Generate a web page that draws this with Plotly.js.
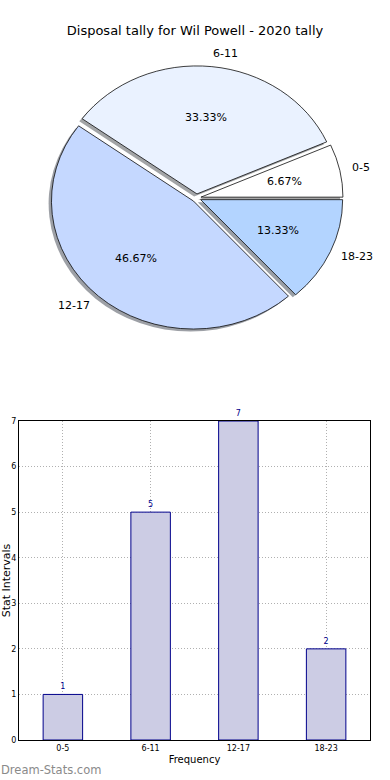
<!DOCTYPE html>
<html>
<head>
<meta charset="utf-8">
<script src="https://cdn.plot.ly/plotly-3.0.1.min.js"></script>
<style>html,body{margin:0;padding:0;background:#fff;} #chart{width:390px;height:780px;}</style>
</head>
<body>
<div id="chart"></div>
<script>
// ---- data ----
const categories = ['0-5', '6-11', '12-17', '18-23'];
const counts = [1, 5, 7, 2];
const sliceColors = ['#ffffff', '#eaf2ff', '#c5d8ff', '#b3d4ff'];
const yTicks = [0, 1, 2, 3, 4, 5, 6, 7];
const chartTitle = 'Disposal tally for Wil Powell - 2020 tally';
const xTitle = 'Frequency';
const yTitle = 'Stat Intervals';
const watermark = 'Dream-Stats.com';

const W = 390, H = 780;
const FONT = 'DejaVu Sans, sans-serif';
const px = v => v / W;
const py = v => 1 - v / H;

// pie geometry (pixels); matplotlib-style elliptical pie
const cx = 196.5, cy = 198, rx = 142, ry = 128;
const explode = 0.032;
const half = rx * (1 + explode);
const shadowOff = 0.02;
const pieDomain = {x: [px(cx - half), px(cx + half)], y: [py(cy + half), py(cy - half)]};
const shadowDomain = {
  x: [px(cx - half - shadowOff * rx), px(cx + half - shadowOff * rx)],
  y: [py(cy + half + shadowOff * rx), py(cy - half + shadowOff * rx)]
};
const total = counts.reduce((a, b) => a + b, 0);
// start at 3 o'clock, going counterclockwise (plotly places first slice clockwise of 'rotation')
const rotation = 90 - 360 * counts[0] / total;

const common = {
  type: 'pie', values: counts, labels: categories, sort: false,
  direction: 'counterclockwise', rotation: rotation, pull: explode, showlegend: false,
  hoverinfo: 'skip', textinfo: 'none'
};

function shade(hex) {
  const n = parseInt(hex.slice(1), 16);
  const r = (n >> 16) & 255, g = (n >> 8) & 255, b = n & 255;
  return `rgba(${Math.round(r * 0.3)},${Math.round(g * 0.3)},${Math.round(b * 0.3)},0.5)`;
}

const shadow = Object.assign({}, common, {
  domain: shadowDomain,
  marker: {colors: sliceColors.map(shade), line: {width: 0}}
});
const main = Object.assign({}, common, {
  domain: pieDomain,
  marker: {colors: sliceColors, line: {color: '#000', width: 0.8}}
});

// text positions derived from the data (matplotlib pctdistance 0.6, labeldistance 1.1)
const ext = 1.3; // helper axes span, in pie radii
const mids = [];
let acc = 0;
counts.forEach(v => { mids.push((acc + v / 2) / total * 2 * Math.PI); acc += v; });
const pctText = counts.map(v => (100 * v / total).toFixed(2) + '%');
const pieAnn = [];
mids.forEach((t, i) => {
  pieAnn.push({
    xref: 'x2', yref: 'y2', x: (explode + 0.6) * Math.cos(t), y: (explode + 0.6) * Math.sin(t),
    text: pctText[i], showarrow: false, xanchor: 'center', yanchor: 'middle',
    borderpad: 0, borderwidth: 0,
    font: {family: FONT, size: 11, color: '#000'}
  });
  const d = 1.1 + explode * 0.5;
  const lx = d * Math.cos(t);
  pieAnn.push({
    xref: 'x2', yref: 'y2', x: lx, y: (1.1 + explode) * Math.sin(t),
    text: categories[i], showarrow: false, xanchor: lx > 0 ? 'left' : 'right', yanchor: 'middle',
    borderpad: 0, borderwidth: 0,
    font: {family: FONT, size: 11, color: '#000'}
  });
});

const bars = {
  type: 'bar', x: categories, y: counts, width: 0.45,
  marker: {color: 'rgb(204,204,228)', line: {color: '#00008b', width: 1}},
  text: counts.map(String), textposition: 'outside', cliponaxis: false,
  textfont: {family: FONT, size: 8, color: '#00008b'},
  xaxis: 'x', yaxis: 'y', showlegend: false, hoverinfo: 'skip'
};

const gridStyle = {showgrid: true, gridcolor: '#b0b0b0', griddash: '1px,2px', gridwidth: 1};

const layout = {
  width: W, height: H, margin: {l: 0, r: 0, t: 0, b: 0},
  paper_bgcolor: '#fff', plot_bgcolor: 'rgba(0,0,0,0)',
  font: {family: FONT, color: '#000'},
  title: {text: chartTitle, x: 0.5, xanchor: 'center', y: py(30), yanchor: 'middle',
          font: {family: FONT, size: 13, color: '#000'}},
  xaxis: Object.assign({
    domain: [px(19), px(370)], type: 'category', range: [-0.5, 3.5],
    showline: true, mirror: true, linecolor: '#000', linewidth: 1,
    ticks: '',
    tickfont: {family: FONT, size: 8, color: '#000'},
    title: {text: xTitle, font: {family: FONT, size: 10, color: '#000'}, standoff: 4},
    zeroline: false, fixedrange: true
  }, gridStyle),
  yaxis: Object.assign({
    domain: [py(740), py(421)], range: [0, 7], tickvals: yTicks,
    showline: true, mirror: true, linecolor: '#000', linewidth: 1,
    ticks: '',
    tickfont: {family: FONT, size: 8, color: '#000'},
    title: {text: yTitle, font: {family: FONT, size: 11, color: '#000'}, standoff: 0},
    zeroline: false, fixedrange: true
  }, gridStyle),
  xaxis2: {domain: [px(cx - ext * rx), px(cx + ext * rx)], range: [-ext, ext], visible: false, anchor: 'y2', fixedrange: true},
  yaxis2: {domain: [py(cy + ext * ry), py(cy - ext * ry)], range: [-ext, ext], visible: false, anchor: 'x2', fixedrange: true},
  annotations: pieAnn.concat([{
    text: watermark, xref: 'paper', yref: 'paper', x: 0, y: py(770),
    xanchor: 'left', yanchor: 'middle', showarrow: false, borderpad: 0,
    font: {family: FONT, size: 11.5, color: '#8a8a8a'}
  }])
};

Plotly.newPlot('chart', [shadow, main, bars], layout,
  {staticPlot: true, displayModeBar: false}).then(gd => {
  // squash the pie vertically into matplotlib's ellipse (axes not equal-aspect)
  const pl = gd.querySelector('.pielayer');
  if (pl) pl.setAttribute('transform',
    `translate(0,${cy}) scale(1,${ry / rx}) translate(0,${-cy})`);
});
</script>
</body>
</html>
